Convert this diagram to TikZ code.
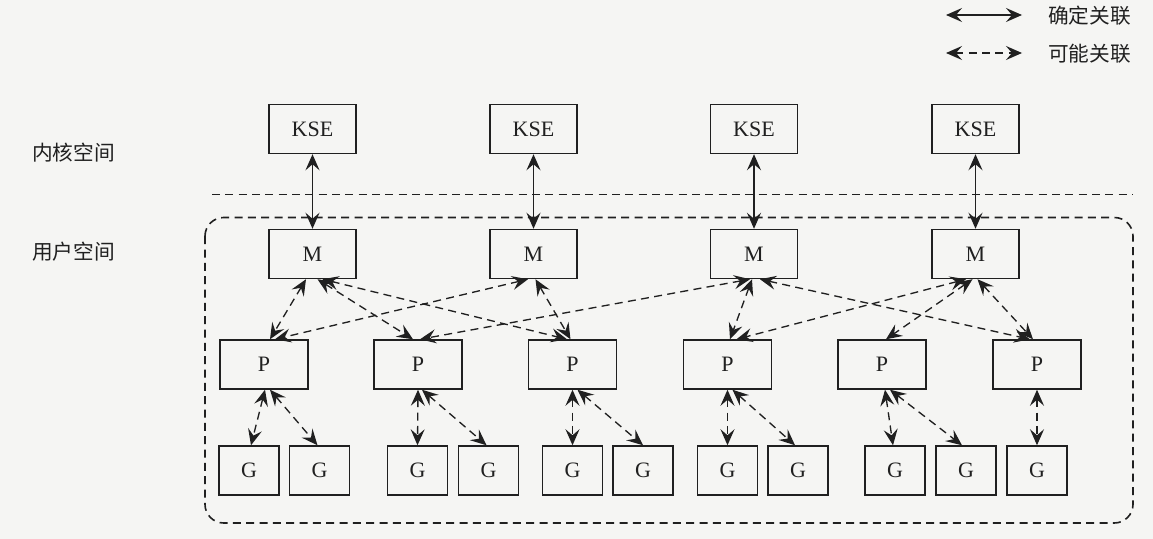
\documentclass[tikz,border=0pt]{standalone}
\usepackage{fontspec}
\setmainfont{Liberation Serif}
\newfontfamily\cjk{Noto Sans CJK SC}
\usetikzlibrary{arrows.meta,calc}
\definecolor{ink}{RGB}{32,32,32}
\definecolor{paper}{RGB}{245,245,243}
\begin{document}
\begin{tikzpicture}[x=0.75pt,y=-0.75pt,
  >={Stealth[length=12pt,width=10.5pt,inset=4.5pt]},
  box/.style={draw=ink,line width=1.1pt,minimum width=65.25pt,minimum height=36.75pt,
              inner sep=0pt,text=ink,font=\fontsize{16.5}{16.5}\selectfont},
  pbox/.style={box,minimum width=66pt},
  gbox/.style={box,minimum width=45pt},
  sure/.style={<->,draw=ink,line width=1pt},
  maybe/.style={<->,draw=ink,line width=1pt,dash pattern=on 6pt off 4pt},
  region/.style={draw=ink,line width=1.2pt,dash pattern=on 6pt off 4pt},
  label/.style={text=ink,font=\cjk\fontsize{15.5}{15.5}\selectfont,inner sep=0pt}]
  \fill[paper] (0,0) rectangle (1153,539);
  \useasboundingbox (0,0) rectangle (1153,539);

  % legend
  \coordinate (la) at (946,15);  \coordinate (lb) at (1022,15);
  \coordinate (lc) at (946,53);  \coordinate (ld) at (1022,53);
  \draw[sure] (la) -- (lb);
  \draw[maybe] (lc) -- (ld);
  \node[label,anchor=west] (lsure) at (1048,16) {确定关联};
  \node[label,anchor=west] (lmaybe) at (1048,54) {可能关联};

  % space labels
  \node[label,anchor=west] (kspace) at (32,153) {内核空间};
  \node[label,anchor=west] (uspace) at (32,252) {用户空间};

  % kernel / user boundary and user-space region
  \coordinate (sepL) at (212,194.5); \coordinate (sepR) at (1133,194.5);
  \draw[region] (sepL) -- (sepR);
  \draw[region,rounded corners=14pt] (205,217.5) rectangle (1133,523);

  % kernel scheduling entities
  \node[box] (K1) at (312.5,129) {KSE};
  \node[box] (K2) at (533.5,129) {KSE};
  \node[box] (K3) at (754,129)   {KSE};
  \node[box] (K4) at (975.5,129) {KSE};

  % machines
  \node[box] (M1) at (312.5,254) {M};
  \node[box] (M2) at (533.5,254) {M};
  \node[box] (M3) at (754,254)   {M};
  \node[box] (M4) at (975.5,254) {M};

  % processors
  \node[pbox] (P1) at (264,364.5)   {P};
  \node[pbox] (P2) at (418,364.5)   {P};
  \node[pbox] (P3) at (572.5,364.5) {P};
  \node[pbox] (P4) at (727.5,364.5) {P};
  \node[pbox] (P5) at (882,364.5)   {P};
  \node[pbox] (P6) at (1037,364.5)  {P};

  % goroutines
  \node[gbox] (G1)  at (249,470.5)   {G};
  \node[gbox] (G2)  at (319.5,470.5) {G};
  \node[gbox] (G3)  at (417.5,470.5) {G};
  \node[gbox] (G4)  at (488.5,470.5) {G};
  \node[gbox] (G5)  at (572.5,470.5) {G};
  \node[gbox] (G6)  at (643,470.5)   {G};
  \node[gbox] (G7)  at (727.5,470.5) {G};
  \node[gbox] (G8)  at (798,470.5)   {G};
  \node[gbox] (G9)  at (895,470.5)   {G};
  \node[gbox] (G10) at (966,470.5)   {G};
  \node[gbox] (G11) at (1037,470.5)  {G};

  % KSE <-> M
  \draw[sure] (K1) -- (M1);
  \draw[sure] (K2) -- (M2);
  \draw[sure] (K3) -- (M3);
  \draw[sure] (K4) -- (M4);

  % M <-> P
  \draw[maybe] ($(M1.south)+(-6.5,0)$) -- ($(P1.north)+(6,0)$);
  \draw[maybe] ($(M1.south)+(5,0)$)    -- ($(P2.north)+(-5,0)$);
  \draw[maybe] ($(M1.south)+(10,0)$)   -- ($(P3.north)+(-5.5,0)$);
  \draw[maybe] ($(M2.south)+(-5.5,0)$) -- ($(P1.north)+(11,0)$);
  \draw[maybe] ($(M2.south)+(2,0)$)    -- ($(P3.north)+(-2,0)$);
  \draw[maybe] ($(M3.south)+(-4,0)$)   -- ($(P2.north)+(2,0)$);
  \draw[maybe] ($(M3.south)+(-2,0)$)   -- ($(P4.north)+(2.5,0)$);
  \draw[maybe] ($(M3.south)+(6,0)$)    -- ($(P6.north)+(-7,0)$);
  \draw[maybe] ($(M4.south)+(-9.5,0)$) -- ($(P4.north)+(9,0)$);
  \draw[maybe] ($(M4.south)+(-3,0)$)   -- ($(P5.north)+(4,0)$);
  \draw[maybe] ($(M4.south)+(2,0)$)    -- ($(P6.north)+(-4,0)$);

  % P <-> G
  \draw[maybe] ($(P1.south)+(1,0)$) -- ($(G1.north)+(2,0)$);
  \draw[maybe] ($(P1.south)+(6,0)$) -- ($(G2.north)+(-2,0)$);
  \draw[maybe] (P2.south) -- (G3.north);
  \draw[maybe] ($(P2.south)+(4,0)$) -- ($(G4.north)+(-2,0)$);
  \draw[maybe] (P3.south) -- (G5.north);
  \draw[maybe] ($(P3.south)+(5,0)$) -- (G6.north);
  \draw[maybe] (P4.south) -- (G7.north);
  \draw[maybe] ($(P4.south)+(5,0)$) -- ($(G8.north)+(-3,0)$);
  \draw[maybe] ($(P5.south)+(3,0)$) -- ($(G9.north)+(-2,0)$);
  \draw[maybe] ($(P5.south)+(8,0)$) -- ($(G10.north)+(-4,0)$);
  \draw[maybe] (P6.south) -- (G11.north);
\end{tikzpicture}
\end{document}
